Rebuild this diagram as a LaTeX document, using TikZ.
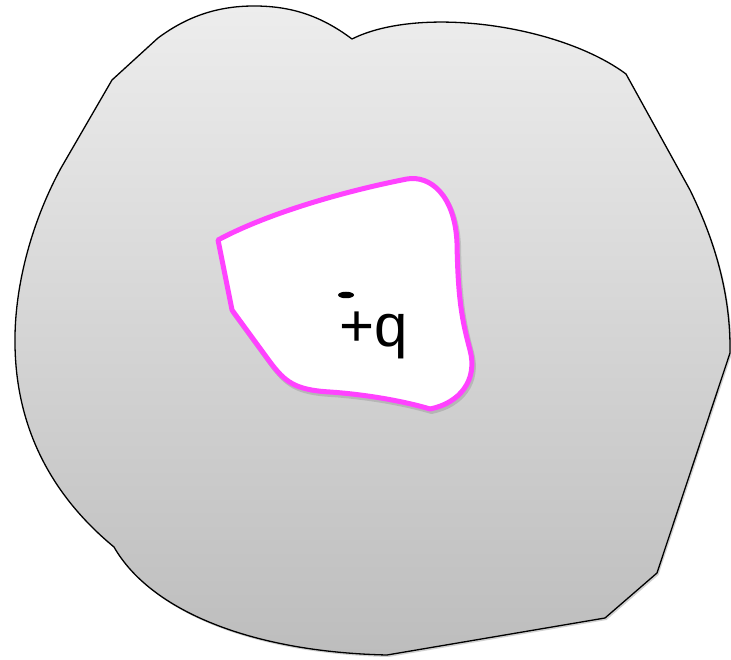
\documentclass[tikz,border=0pt]{standalone}
\usepackage{fontspec}
\setmainfont{Liberation Sans}
\usetikzlibrary{shadows,shapes.geometric}
\definecolor{gtop}{RGB}{237,237,237}
\definecolor{gbot}{RGB}{189,189,189}
\definecolor{mag}{RGB}{255,66,255}
\newcommand\myholepath{(218,240) .. controls (270,212) and (350,190) .. (407,179)
  .. controls (430,175) and (455,195) .. (457,243)
  .. controls (458,300) and (462,320) .. (470,350)
  .. controls (478,380) and (460,403) .. (430,409)
  .. controls (400,400) and (360,394) .. (330,392)
  .. controls (295,390) and (285,382) .. (270,362)
  -- (232,310) -- cycle}
\begin{document}
\begin{tikzpicture}[x=1pt,y=-1pt,
  outerblob/.style={draw=black, line width=1.3pt, line join=round, top color=gtop, bottom color=gbot,
    drop shadow={shadow xshift=1.5pt, shadow yshift=-2pt, opacity=0.18, fill=black}},
  holeshadow/.style={draw=black, line width=5pt, opacity=0.12, line join=round},
  holeline/.style={draw=mag, fill=white, line width=5pt, line join=round},
  qlabel/.style={font=\fontsize{60}{60}\selectfont, inner sep=0pt, anchor=base},
  dotmark/.style={ellipse, fill=black, minimum width=16pt, minimum height=6.5pt, inner sep=0pt}]
\useasboundingbox (0,0) rectangle (731,660);
\path[outerblob] (352,39) .. controls (320,15) and (290,6) .. (254,6)
  .. controls (215,6) and (185,18) .. (158,38)
  -- (112,80) -- (61,168)
  .. controls (30,225) and (14,290) .. (15,345)
  .. controls (16,420) and (45,490) .. (114,547)
  .. controls (150,610) and (250,652) .. (387,655)
  -- (605,618) -- (657,573) -- (730,353)
  .. controls (731,290) and (712,235) .. (690,190)
  -- (626,74)
  .. controls (560,25) and (420,5) .. (352,39)
  -- cycle;
\begin{scope}[shift={(1.5,2.5)}]
\path[holeshadow] \myholepath;
\end{scope}
\path[holeline] \myholepath;
\node[dotmark] (dot) at (346,295) {};
\node[qlabel] (q) at (374,346) {+q};
\end{tikzpicture}
\end{document}
